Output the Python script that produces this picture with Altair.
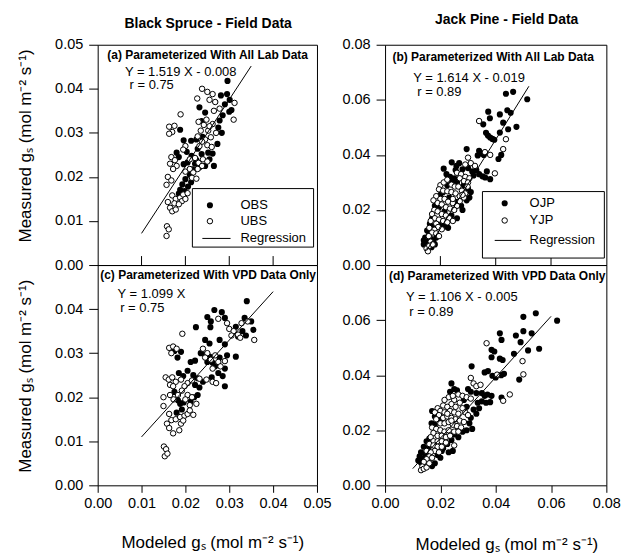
import altair as alt
import pandas as pd

FONT = "Liberation Sans"
TITLE_Y = "Measured gₛ (mol m⁻² s⁻¹)"
TITLE_X = "Modeled gₛ (mol m⁻² s⁻¹)"

col_titles = ["Black Spruce - Field Data", "Jack Pine - Field Data"]
panel_labels = ["(a) Parameterized With All Lab Data", "(b) Parameterized With All Lab Data",
                "(c) Parameterized With VPD Data Only", "(d) Parameterized With VPD Data Only"]
equations = ["Y = 1.519 X - 0.008", "Y = 1.614 X - 0.019", "Y = 1.099 X", "Y = 1.106 X - 0.005"]
r_values = ["r = 0.75", "r = 0.89", "r = 0.75", "r = 0.89"]
slopes = [1.519, 1.614, 1.099, 1.106]
intercepts = [-0.008, -0.019, 0.0, -0.005]
reg_x_range = [(0.010, 0.035), (0.015, 0.052), (0.010, 0.040), (0.010, 0.060)]
legend_names = [["OBS", "UBS", "Regression"], ["OJP", "YJP", "Regression"]]
spruce_ticks = [0.0, 0.01, 0.02, 0.03, 0.04, 0.05]
pine_ticks = [0.0, 0.02, 0.04, 0.06, 0.08]

# ---- Panel (a): Black spruce, all lab data ----
a_obs = [(0.0296,0.0418),(0.0281,0.0385),(0.0295,0.0388),(0.0301,0.0375),(0.0290,0.0365),(0.0305,0.0352),
         (0.0300,0.0348),(0.0285,0.0340),(0.0232,0.0358),(0.0245,0.0346),(0.0237,0.0327),(0.0278,0.0328),
         (0.0275,0.0312),(0.0283,0.0300),(0.0273,0.0275),(0.0188,0.0307),(0.0196,0.0283),(0.0213,0.0282),
         (0.0225,0.0285),(0.0239,0.0291),(0.0252,0.0255),(0.0262,0.0253),(0.0255,0.0240),(0.0245,0.0225),
         (0.0265,0.0225),(0.0180,0.0255),(0.0185,0.0245),(0.0203,0.0257),(0.0214,0.0248),(0.0225,0.0238),
         (0.0237,0.0252),(0.0228,0.0264),(0.0196,0.0229),(0.0205,0.0233),(0.0216,0.0217),(0.0210,0.0205),
         (0.0200,0.0195),(0.0193,0.0183),(0.0188,0.0171),(0.0198,0.0168),(0.0185,0.0162),(0.0206,0.0178),
         (0.0213,0.0188),(0.0222,0.0230),(0.0232,0.0222)]
a_ubs = [(0.0238,0.0400),(0.0250,0.0393),(0.0262,0.0388),(0.0255,0.0375),(0.0268,0.0370),(0.0227,0.0378),
         (0.0312,0.0368),(0.0310,0.0330),(0.0278,0.0355),(0.0265,0.0350),(0.0189,0.0342),(0.0163,0.0314),
         (0.0175,0.0316),(0.0170,0.0302),(0.0163,0.0298),(0.0230,0.0325),(0.0242,0.0318),(0.0235,0.0305),
         (0.0252,0.0305),(0.0248,0.0330),(0.0258,0.0290),(0.0245,0.0285),(0.0228,0.0292),(0.0238,0.0280),
         (0.0250,0.0272),(0.0232,0.0270),(0.0260,0.0268),(0.0200,0.0270),(0.0195,0.0262),(0.0168,0.0245),
         (0.0176,0.0238),(0.0165,0.0230),(0.0180,0.0225),(0.0172,0.0218),(0.0210,0.0240),(0.0222,0.0243),
         (0.0230,0.0232),(0.0240,0.0240),(0.0250,0.0235),(0.0238,0.0225),(0.0228,0.0218),(0.0200,0.0212),
         (0.0210,0.0218),(0.0218,0.0210),(0.0215,0.0198),(0.0225,0.0196),(0.0160,0.0200),(0.0157,0.0182),
         (0.0168,0.0192),(0.0170,0.0158),(0.0178,0.0150),(0.0175,0.0140),(0.0188,0.0153),(0.0195,0.0160),
         (0.0192,0.0145),(0.0185,0.0138),(0.0200,0.0150),(0.0205,0.0163),(0.0165,0.0130),(0.0170,0.0122),
         (0.0178,0.0126),(0.0160,0.0143),(0.0158,0.0088),(0.0162,0.0081),(0.0157,0.0066),(0.0262,0.0320),
         (0.0270,0.0300),(0.0255,0.0315)]

# ---- Panel (c): Black spruce, VPD only ----
c_obs = [(0.0340,0.0418),(0.0266,0.0398),(0.0283,0.0393),(0.0290,0.0380),(0.0250,0.0382),(0.0258,0.0372),
         (0.0224,0.0359),(0.0257,0.0359),(0.0335,0.0380),(0.0350,0.0372),(0.0355,0.0353),(0.0330,0.0350),
         (0.0315,0.0360),(0.0320,0.0338),(0.0338,0.0340),(0.0245,0.0330),(0.0255,0.0322),(0.0278,0.0330),
         (0.0290,0.0320),(0.0315,0.0292),(0.0295,0.0295),(0.0278,0.0290),(0.0290,0.0265),(0.0268,0.0270),
         (0.0175,0.0305),(0.0182,0.0290),(0.0190,0.0303),(0.0212,0.0280),(0.0222,0.0283),(0.0235,0.0300),
         (0.0245,0.0296),(0.0255,0.0292),(0.0250,0.0280),(0.0262,0.0278),(0.0285,0.0248),(0.0275,0.0255),
         (0.0290,0.0225),(0.0260,0.0245),(0.0205,0.0260),(0.0218,0.0250),(0.0228,0.0243),(0.0240,0.0235),
         (0.0232,0.0222),(0.0222,0.0228),(0.0195,0.0248),(0.0185,0.0255),(0.0175,0.0212),(0.0183,0.0193),
         (0.0188,0.0185),(0.0196,0.0188),(0.0212,0.0190),(0.0220,0.0200),(0.0180,0.0165),(0.0192,0.0172),
         (0.0228,0.0205)]
c_ubs = [(0.0275,0.0378),(0.0295,0.0368),(0.0300,0.0355),(0.0310,0.0350),(0.0320,0.0342),(0.0325,0.0335),
         (0.0357,0.0330),(0.0328,0.0368),(0.0342,0.0372),(0.0305,0.0340),(0.0193,0.0344),(0.0163,0.0312),
         (0.0172,0.0315),(0.0180,0.0310),(0.0168,0.0300),(0.0240,0.0310),(0.0250,0.0300),(0.0245,0.0290),
         (0.0258,0.0285),(0.0268,0.0295),(0.0275,0.0280),(0.0262,0.0265),(0.0280,0.0270),(0.0290,0.0282),
         (0.0155,0.0245),(0.0162,0.0240),(0.0170,0.0245),(0.0178,0.0235),(0.0165,0.0228),(0.0172,0.0225),
         (0.0190,0.0240),(0.0205,0.0232),(0.0198,0.0225),(0.0215,0.0238),(0.0232,0.0242),(0.0248,0.0240),
         (0.0262,0.0235),(0.0270,0.0232),(0.0192,0.0215),(0.0205,0.0205),(0.0215,0.0200),(0.0200,0.0195),
         (0.0225,0.0185),(0.0210,0.0182),(0.0150,0.0200),(0.0150,0.0180),(0.0165,0.0205),(0.0173,0.0195),
         (0.0183,0.0205),(0.0163,0.0162),(0.0168,0.0148),(0.0178,0.0150),(0.0188,0.0155),(0.0198,0.0158),
         (0.0190,0.0140),(0.0205,0.0162),(0.0195,0.0147),(0.0158,0.0140),(0.0163,0.0130),(0.0172,0.0118),
         (0.0186,0.0125),(0.0151,0.0088),(0.0156,0.0082),(0.0153,0.0066),(0.0159,0.0072),(0.0210,0.0170),
         (0.0218,0.0160)]

# ---- Panel (b): Jack pine, all lab data ----
b_ojp = [(0.0437,0.0622),(0.0463,0.0629),(0.0514,0.0602),(0.0373,0.0557),(0.0379,0.0533),(0.0415,0.0547),
         (0.0442,0.0562),(0.0454,0.0553),(0.0427,0.0517),(0.0445,0.0493),(0.0475,0.0502),(0.0415,0.0481),
         (0.0355,0.0511),(0.0365,0.0480),(0.0372,0.0470),(0.0380,0.0463),(0.0388,0.0458),(0.0395,0.0455),
         (0.0295,0.0421),(0.0340,0.0415),(0.0348,0.0405),(0.0357,0.0400),(0.0335,0.0398),(0.0410,0.0385),
         (0.0420,0.0400),(0.0241,0.0373),(0.0258,0.0360),(0.0268,0.0370),(0.0255,0.0345),(0.0280,0.0348),
         (0.0300,0.0352),(0.0315,0.0340),(0.0330,0.0345),(0.0320,0.0325),(0.0340,0.0330),(0.0352,0.0322),
         (0.0362,0.0318),(0.0380,0.0312),(0.0368,0.0340),(0.0225,0.0290),(0.0240,0.0305),(0.0260,0.0300),
         (0.0285,0.0290),(0.0300,0.0278),(0.0310,0.0265),(0.0305,0.0245),(0.0295,0.0235),(0.0200,0.0255),
         (0.0210,0.0265),(0.0232,0.0245),(0.0255,0.0230),(0.0275,0.0215),(0.0280,0.0200),(0.0180,0.0215),
         (0.0195,0.0210),(0.0215,0.0195),(0.0240,0.0180),(0.0260,0.0170),(0.0170,0.0170),(0.0162,0.0150),
         (0.0175,0.0140),(0.0200,0.0150),(0.0215,0.0140),(0.0228,0.0135),(0.0152,0.0125),(0.0160,0.0112),
         (0.0145,0.0100),(0.0140,0.0090),(0.0150,0.0085),(0.0165,0.0095),(0.0175,0.0088),(0.0185,0.0100),
         (0.0140,0.0075),(0.0155,0.0068),(0.0168,0.0065),(0.0180,0.0075),(0.0235,0.0320),(0.0250,0.0315),
         (0.0222,0.0330),(0.0212,0.0350)]
b_yjp = [(0.0340,0.0523),(0.0361,0.0410),(0.0437,0.0457),(0.0427,0.0421),(0.0397,0.0333),(0.0380,0.0400),
         (0.0300,0.0390),(0.0310,0.0370),(0.0290,0.0365),(0.0325,0.0360),(0.0260,0.0335),(0.0275,0.0330),
         (0.0290,0.0320),(0.0305,0.0315),(0.0270,0.0315),(0.0285,0.0305),(0.0300,0.0300),(0.0200,0.0290),
         (0.0212,0.0300),(0.0225,0.0310),(0.0240,0.0292),(0.0252,0.0285),(0.0265,0.0285),(0.0278,0.0270),
         (0.0290,0.0260),(0.0195,0.0275),(0.0210,0.0270),(0.0225,0.0268),(0.0240,0.0265),(0.0255,0.0260),
         (0.0270,0.0250),(0.0285,0.0245),(0.0185,0.0250),(0.0200,0.0240),(0.0215,0.0240),(0.0228,0.0230),
         (0.0245,0.0225),(0.0260,0.0215),(0.0270,0.0232),(0.0175,0.0235),(0.0190,0.0225),(0.0205,0.0220),
         (0.0220,0.0210),(0.0235,0.0205),(0.0250,0.0200),(0.0178,0.0200),(0.0190,0.0195),(0.0205,0.0185),
         (0.0220,0.0180),(0.0232,0.0170),(0.0245,0.0160),(0.0170,0.0185),(0.0180,0.0170),(0.0195,0.0165),
         (0.0210,0.0160),(0.0225,0.0155),(0.0165,0.0160),(0.0185,0.0150),(0.0192,0.0138),(0.0205,0.0130),
         (0.0178,0.0128),(0.0160,0.0135),(0.0170,0.0118),(0.0185,0.0115),(0.0195,0.0105),(0.0158,0.0105),
         (0.0165,0.0085),(0.0150,0.0060),(0.0155,0.0050),(0.0160,0.0070),(0.0172,0.0075),(0.0280,0.0255),
         (0.0298,0.0285),(0.0245,0.0240)]

# ---- Panel (d): Jack pine, VPD only ----
d_ojp = [(0.0545,0.0625),(0.0500,0.0612),(0.0622,0.0598),(0.0500,0.0560),(0.0530,0.0552),(0.0415,0.0552),
         (0.0421,0.0528),(0.0473,0.0544),(0.0490,0.0520),(0.0557,0.0496),(0.0517,0.0490),(0.0385,0.0492),
         (0.0395,0.0486),(0.0385,0.0465),(0.0415,0.0460),(0.0425,0.0455),(0.0466,0.0478),(0.0485,0.0384),
         (0.0360,0.0410),(0.0372,0.0415),(0.0388,0.0398),(0.0400,0.0392),(0.0420,0.0400),(0.0430,0.0405),
         (0.0313,0.0432),(0.0370,0.0330),(0.0385,0.0325),(0.0360,0.0325),(0.0350,0.0335),(0.0421,0.0319),
         (0.0330,0.0335),(0.0335,0.0300),(0.0350,0.0305),(0.0365,0.0300),(0.0380,0.0302),(0.0240,0.0370),
         (0.0250,0.0350),(0.0235,0.0340),(0.0260,0.0345),(0.0300,0.0350),(0.0310,0.0340),(0.0285,0.0310),
         (0.0295,0.0285),(0.0320,0.0275),(0.0330,0.0260),(0.0310,0.0245),(0.0340,0.0280),(0.0305,0.0225),
         (0.0315,0.0205),(0.0295,0.0200),(0.0280,0.0195),(0.0170,0.0270),(0.0180,0.0250),(0.0195,0.0240),
         (0.0168,0.0225),(0.0180,0.0220),(0.0250,0.0185),(0.0265,0.0175),(0.0240,0.0165),(0.0225,0.0150),
         (0.0210,0.0135),(0.0245,0.0125),(0.0230,0.0120),(0.0160,0.0170),(0.0150,0.0160),(0.0140,0.0140),
         (0.0155,0.0135),(0.0130,0.0120),(0.0145,0.0115),(0.0125,0.0105),(0.0135,0.0098),(0.0120,0.0090),
         (0.0130,0.0082),(0.0190,0.0110),(0.0200,0.0100),(0.0205,0.0125),(0.0180,0.0080),(0.0170,0.0070),
         (0.0145,0.0075),(0.0155,0.0088)]
d_yjp = [(0.0367,0.0516),(0.0497,0.0451),(0.0500,0.0403),(0.0405,0.0402),(0.0451,0.0330),(0.0427,0.0307),
         (0.0310,0.0390),(0.0320,0.0370),(0.0330,0.0360),(0.0345,0.0365),(0.0265,0.0330),(0.0280,0.0325),
         (0.0295,0.0320),(0.0310,0.0315),(0.0250,0.0310),(0.0270,0.0300),(0.0240,0.0295),(0.0230,0.0320),
         (0.0245,0.0325),(0.0215,0.0310),(0.0210,0.0290),(0.0225,0.0285),(0.0255,0.0285),(0.0280,0.0280),
         (0.0190,0.0280),(0.0200,0.0270),(0.0215,0.0265),(0.0235,0.0270),(0.0250,0.0265),(0.0265,0.0260),
         (0.0290,0.0265),(0.0300,0.0255),(0.0180,0.0265),(0.0195,0.0255),(0.0210,0.0245),(0.0225,0.0250),
         (0.0240,0.0245),(0.0255,0.0240),(0.0270,0.0235),(0.0285,0.0230),(0.0185,0.0240),(0.0200,0.0225),
         (0.0215,0.0225),(0.0230,0.0230),(0.0245,0.0220),(0.0260,0.0215),(0.0275,0.0210),(0.0170,0.0210),
         (0.0185,0.0205),(0.0200,0.0200),(0.0215,0.0195),(0.0230,0.0200),(0.0250,0.0195),(0.0265,0.0195),
         (0.0250,0.0145),(0.0175,0.0190),(0.0190,0.0180),(0.0205,0.0180),(0.0220,0.0175),(0.0235,0.0180),
         (0.0165,0.0175),(0.0175,0.0160),(0.0190,0.0160),(0.0205,0.0160),(0.0220,0.0155),(0.0160,0.0150),
         (0.0175,0.0145),(0.0190,0.0140),(0.0205,0.0140),(0.0180,0.0125),(0.0195,0.0120),(0.0150,0.0125),
         (0.0165,0.0120),(0.0160,0.0105),(0.0170,0.0100),(0.0150,0.0095),(0.0140,0.0085),(0.0135,0.0068),
         (0.0130,0.0055),(0.0140,0.0060),(0.0150,0.0065),(0.0160,0.0080),(0.0225,0.0260),(0.0240,0.0235)]

ONE = pd.DataFrame({"k": [0]})


def txt(text, x, y, size, weight="normal", align="left"):
    return alt.Chart(ONE).mark_text(text=text, fontSize=size, fontWeight=weight, align=align,
                                    baseline="middle", font=FONT, color="black").encode(
        x=alt.value(x), y=alt.value(y))


def panel(idx, filled, opened, xmax, xticks, ymax, yvals, w, h, lay, show_x, ytitle, legend=None,
          top_ticks=None, col_title=None, anchor=False):
    xs = alt.Scale(domain=[0, xmax], nice=False, zero=True)
    ys = alt.Scale(domain=[0, ymax], nice=False, zero=True)
    if show_x:
        xaxis = alt.Axis(values=xticks, format=".2f", tickSize=7, labelPadding=4, labelFontSize=14.5,
                         labelFlush=False, labelOverlap=False,
                         title=TITLE_X, titleFontSize=17, titleFontWeight="normal",
                         titleX=lay["xtx"], titleY=lay["xty"], titleAlign="center", titleBaseline="middle")
    else:
        xaxis = None
    if ytitle:
        yaxis = alt.Axis(values=yvals, format=".2f", tickSize=9, labelPadding=6, labelFontSize=14.5,
                         labelFlush=False, labelOverlap=False,
                         title=TITLE_Y, titleFontSize=17, titleFontWeight="normal", titleAngle=270,
                         titleX=lay["ytx"], titleY=lay["yty"], titleAlign="center", titleBaseline="middle")
    else:
        yaxis = alt.Axis(values=yvals, format=".2f", tickSize=9, labelPadding=6, labelFontSize=14.5,
                         labelFlush=False, labelOverlap=False, title=None)
    xe = alt.X("x:Q", scale=xs, axis=xaxis)
    ye = alt.Y("y:Q", scale=ys, axis=yaxis)

    layers = []
    if anchor:
        layers.append(alt.Chart(ONE).mark_rect(opacity=0).encode(
            x=alt.value(-96.7), x2=alt.value(-95.7), y=alt.value(-43), y2=alt.value(-42)))
    layers.append(alt.Chart(pd.DataFrame(filled, columns=["x", "y"])).mark_circle(
        size=38, color="black", opacity=1).encode(x=xe, y=ye))
    layers.append(alt.Chart(pd.DataFrame(opened, columns=["x", "y"])).mark_point(
        shape="circle", filled=True, fill="white", stroke="black", strokeWidth=1, size=30, opacity=1
    ).encode(x=xe, y=ye))
    x0, x1 = reg_x_range[idx]
    reg = pd.DataFrame({"x": [x0, x1], "y": [slopes[idx] * x0 + intercepts[idx], slopes[idx] * x1 + intercepts[idx]]})
    layers.append(alt.Chart(reg).mark_line(color="black", strokeWidth=1).encode(x=xe, y=ye))
    if top_ticks:
        layers.append(alt.Chart(pd.DataFrame({"x": top_ticks})).mark_rule(color="black", strokeWidth=1).encode(
            x=xe, y=alt.value(h), y2=alt.value(h - 9)))
    if legend:
        names, L = legend
        layers.append(alt.Chart(ONE).mark_rect(fill="white", stroke="black", strokeWidth=1).encode(
            x=alt.value(L["bx0"]), x2=alt.value(L["bx1"]), y=alt.value(L["by0"]), y2=alt.value(L["by1"])))
        layers.append(alt.Chart(ONE).mark_circle(size=38, color="black", opacity=1).encode(
            x=alt.value(L["cx"]), y=alt.value(L["r1"])))
        layers.append(alt.Chart(ONE).mark_point(shape="circle", filled=True, fill="white", stroke="black",
                                                strokeWidth=1, size=30, opacity=1).encode(
            x=alt.value(L["cx"]), y=alt.value(L["r2"])))
        layers.append(alt.Chart(ONE).mark_rule(color="black", strokeWidth=1).encode(
            x=alt.value(L["lx0"]), x2=alt.value(L["lx1"]), y=alt.value(L["r3"])))
        layers.append(txt(names[0], L["tx"], L["r1"], 13))
        layers.append(txt(names[1], L["tx"], L["r2"], 13))
        layers.append(txt(names[2], L["tx"], L["r3"], 13))
    layers.append(txt(panel_labels[idx], lay["lx"], lay["ly"], 12, "bold", "center"))
    layers.append(txt(equations[idx], lay["ex"], lay["ey"], 13))
    layers.append(txt(r_values[idx], lay["rx"], lay["ry"], 13))
    if col_title:
        layers.append(txt(col_title, lay["ctx"], lay["cty"], 14, "bold", "center"))
    return alt.layer(*layers).properties(width=w, height=h)


W_L, W_R, H = 220, 222, 221

pa = panel(0, a_obs, a_ubs, 0.05, spruce_ticks, 0.05, spruce_ticks, W_L, H,
           dict(lx=110.3, ly=10, ex=27.3, ey=27, rx=32, ry=40.5, ytx=-72.2, yty=101, ctx=110.8, cty=-21.3),
           show_x=False, ytitle=True,
           legend=(legend_names[0], dict(bx0=95, bx1=216.6, by0=144.3, by1=203, cx=112.6, r1=161, r2=177,
                                         r3=194.3, lx0=105, lx1=133.3, tx=143.3)),
           top_ticks=spruce_ticks[1:-1], col_title=col_titles[0], anchor=True)

pb = panel(1, b_ojp, b_yjp, 0.08, pine_ticks, 0.08, pine_ticks, W_R, H,
           dict(lx=108.5, ly=12.3, ex=28.3, ey=33, rx=32.3, ry=47, ctx=122, cty=-24.7),
           show_x=False, ytitle=False,
           legend=(legend_names[1], dict(bx0=97.7, bx1=220, by0=147.3, by1=214, cx=120, r1=159, r2=176.3,
                                         r3=196.3, lx0=110, lx1=136.7, tx=145)),
           top_ticks=pine_ticks[1:-1], col_title=col_titles[1])

pc = panel(2, c_obs, c_ubs, 0.05, spruce_ticks, 0.05, spruce_ticks[:-1], W_L, H,
           dict(lx=110.8, ly=10, ex=20, ey=29.3, rx=22.6, ry=43.5, ytx=-72.2, yty=111, xtx=115, xty=57),
           show_x=True, ytitle=True)

pd_ = panel(3, d_ojp, d_yjp, 0.08, pine_ticks, 0.08, pine_ticks[:-1], W_R, H,
            dict(lx=112.5, ly=11.3, ex=21, ey=32, rx=24.3, ry=47, xtx=121.7, xty=59),
            show_x=True, ytitle=False)

chart = alt.concat(pa, pb, pc, pd_, columns=2, spacing={"row": 0, "column": 68.3}, bounds="flush").properties(
    padding=0
).configure_view(stroke="black", strokeWidth=1).configure_axis(
    grid=False, domain=False, labelFont=FONT, titleFont=FONT, tickColor="black", labelColor="black",
    titleColor="black", tickWidth=1
).configure_text(font=FONT)

chart.save("out.html", embed_options={"renderer": "svg", "actions": False})
